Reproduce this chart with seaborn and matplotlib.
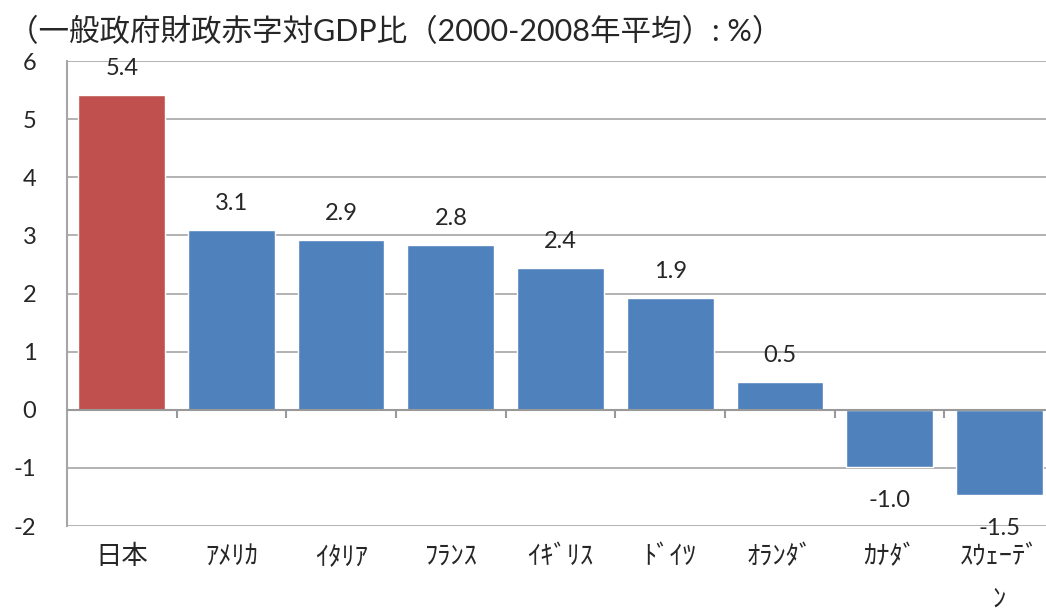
import matplotlib
matplotlib.use("Agg")
import matplotlib.pyplot as plt
import numpy as np
import pandas as pd
import seaborn as sns

COUNTRIES = ["日本", "ｱﾒﾘｶ", "ｲﾀﾘｱ", "ﾌﾗﾝｽ", "ｲｷﾞﾘｽ", "ﾄﾞｲﾂ", "ｵﾗﾝﾀﾞ", "ｶﾅﾀﾞ", "ｽｳｪｰﾃﾞ\nﾝ"]
DEFICIT = [5.42, 3.10, 2.92, 2.84, 2.44, 1.92, 0.48, -0.99, -1.47]
TITLE = "（一般政府財政赤字対GDP比（2000-2008年平均）: %）"

RED = "#C0504D"
BLUE = "#4F81BD"
GRID = "#A6A6A6"


def plot_deficit():
    df = pd.DataFrame({"country": COUNTRIES, "deficit": DEFICIT})
    palette = {c: (RED if i == 0 else BLUE) for i, c in enumerate(COUNTRIES)}

    sns.set_style("white")
    plt.rcParams["font.family"] = ["Lato", "Noto Sans CJK JP", "DejaVu Sans"]
    plt.rcParams["axes.unicode_minus"] = False

    fig = plt.figure(figsize=(10.46, 6.12), dpi=100)
    ax = fig.add_axes([0.064, 0.1405, 0.9437, 0.7598])

    sns.barplot(
        data=df, x="country", y="deficit", hue="country", palette=palette,
        legend=False, width=0.79, saturation=1, ax=ax, zorder=3,
    )

    ax.set_ylim(-2, 6)
    ax.set_xlim(-0.5, len(COUNTRIES) - 0.5)
    ax.set_yticks(range(-2, 7))
    ax.yaxis.grid(True, color=GRID, linewidth=1.2, zorder=0)
    ax.set_axisbelow(True)

    for side in ["top", "right", "bottom"]:
        ax.spines[side].set_visible(False)
    ax.spines["left"].set_color(GRID)
    ax.spines["left"].set_linewidth(1.5)

    # zero line with tick marks between categories
    ax.axhline(0, color="#999999", linewidth=1.5, zorder=4)
    ax.vlines(np.arange(0.5, len(COUNTRIES) - 0.5), -0.14, 0, color="#999999",
              linewidth=1.5, zorder=4)

    ax.tick_params(axis="y", length=6, color=GRID, width=1.5, labelsize=17, pad=16)
    ax.tick_params(axis="x", length=0, labelsize=19, pad=13)
    ax.set_xlabel("")
    ax.set_ylabel("")
    fig.canvas.draw()
    for lbl in ax.get_xticklabels():
        lbl.set_linespacing(1.9)

    for i, v in enumerate(DEFICIT):
        off = 19 if v >= 0 else -24
        ax.annotate(f"{v:.1f}", (i, v), xytext=(0, off), textcoords="offset points",
                    ha="center", va="center", fontsize=17)

    fig.text(0.008, 0.948, TITLE, fontsize=22, ha="left", va="center")
    fig.savefig("out.png", dpi=100)


if __name__ == "__main__":
    plot_deficit()
